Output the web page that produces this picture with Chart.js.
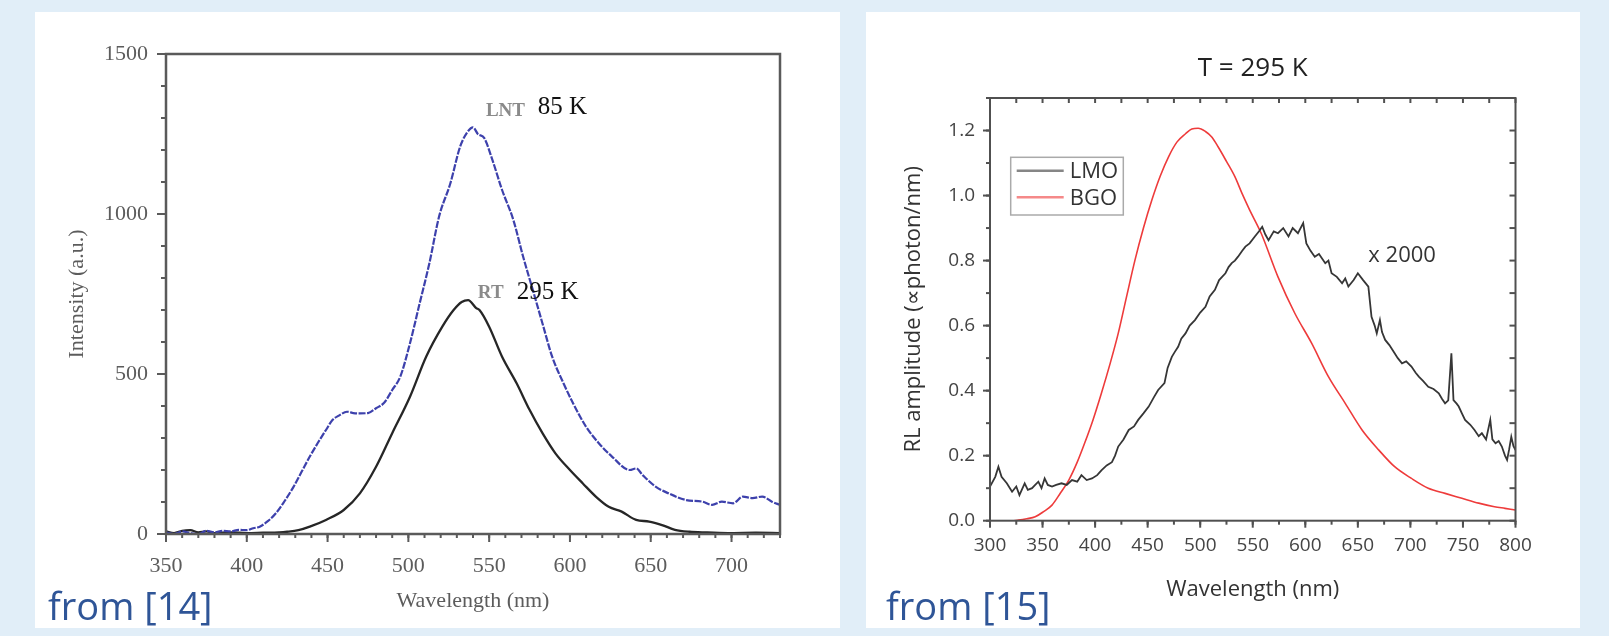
<!DOCTYPE html>
<html lang="en">
<head>
<meta charset="UTF-8">
<title>Luminescence spectra</title>
<script src="https://cdn.jsdelivr.net/npm/chart.js"></script>
<style>
    body {
        margin: 0;
        width: 1609px;
        height: 636px;
        overflow: hidden;
        position: relative;
        background-color: #e1eef8;
    }
    .panel {
        position: absolute;
        top: 12px;
        height: 616px;
        background: white;
    }
    .src {
        position: absolute;
        top: 586px;
        font-family: 'Open Sans', sans-serif;
        font-size: 38px;
        line-height: 38px;
        color: #2f5597;
        z-index: 2;
        white-space: nowrap;
    }
</style>
</head>
<body>
<div class="panel" style="left:35px;width:805px"><canvas id="left"></canvas></div>
<div class="panel" style="left:866px;width:714px"><canvas id="right"></canvas></div>
<div class="src" style="left:48px">from [14]</div>
<div class="src" style="left:886px">from [15]</div>

<script>
// left chart: photoluminescence
const lntNm = [350,355,360,365,370,375,380,385,390,395,400,404,408,413,418,423,429,434,439,444,449,453,457,462,466,470,475,480,485,490,495,501,507,513,519,526,532,536,540,543,547,552,558,565,571,577,583,589,596,602,610,618,626,637,641,645,653,661,672,682,688,694,701,707,713,719,725,730];
const lntIntensity = [5,0,8,3,0,10,5,10,8,13,12,18,23,40,65,100,148,195,242,285,325,356,370,382,378,377,378,393,410,450,492,596,721,846,992,1096,1210,1252,1271,1250,1237,1169,1075,981,867,763,658,554,471,408,335,283,242,200,205,184,148,127,106,101,91,101,96,117,112,117,101,91];

const rtNm = [350,355,360,365,370,375,380,390,400,410,420,425,432,439,449,460,470,480,490,501,511,521,528,533,537,542,544,550,558,567,575,583,591,600,608,616,624,632,641,649,657,665,674,685,700,715,730];
const rtIntensity = [8,3,10,12,5,8,3,5,3,4,5,7,12,23,44,75,127,210,315,429,554,648,700,725,731,706,700,648,554,471,388,315,252,200,158,117,85,70,44,39,28,13,7,5,3,4,3];

// right chart: radioluminescence at 295 K
const lmoNm = [300,305,308,311,316,321,325,328,333,336,340,343,346,349,352,355,359,363,368,373,378,383,387,392,397,402,406,411,416,419,422,427,432,437,441,446,451,456,460,466,469,473,476,479,482,486,490,495,500,505,509,514,518,524,527,530,533,536,540,543,547,552,556,559,562,565,570,574,579,584,588,593,598,601,605,609,613,619,622,625,630,635,638,641,646,650,655,660,663,666,668,671,673,676,680,685,688,692,696,701,705,708,712,717,722,727,730,733,736,739,741,744,746,749,752,757,761,765,768,772,776,778,781,784,787,790,792,794,796,798,800];
const lmoAmp = [0.105,0.135,0.166,0.135,0.115,0.089,0.105,0.079,0.115,0.095,0.100,0.110,0.120,0.100,0.130,0.110,0.105,0.110,0.115,0.110,0.125,0.120,0.140,0.125,0.130,0.140,0.155,0.170,0.180,0.200,0.228,0.250,0.279,0.290,0.310,0.330,0.351,0.380,0.402,0.423,0.470,0.504,0.520,0.535,0.560,0.576,0.600,0.617,0.640,0.658,0.690,0.710,0.740,0.761,0.780,0.792,0.800,0.812,0.830,0.843,0.853,0.874,0.890,0.904,0.880,0.863,0.890,0.884,0.900,0.874,0.900,0.884,0.915,0.853,0.830,0.812,0.820,0.792,0.800,0.761,0.750,0.730,0.745,0.720,0.740,0.761,0.740,0.720,0.627,0.600,0.576,0.617,0.580,0.556,0.540,0.515,0.500,0.484,0.490,0.474,0.455,0.443,0.430,0.412,0.405,0.392,0.375,0.361,0.370,0.515,0.371,0.360,0.351,0.330,0.310,0.295,0.279,0.260,0.269,0.250,0.310,0.250,0.238,0.245,0.228,0.200,0.187,0.220,0.258,0.230,0.217];

const bgoNm = [300,310,320,327,335,343,351,359,367,375,383,390,398,406,414,422,430,438,446,454,462,470,478,486,492,498,505,511,517,525,533,540,547,558,574,590,606,622,638,654,670,685,701,717,733,749,765,780,790,800];
const bgoAmp = [0,0,0,0.002,0.006,0.012,0.028,0.048,0.085,0.125,0.18,0.238,0.31,0.392,0.48,0.576,0.69,0.802,0.9,0.986,1.06,1.12,1.165,1.19,1.205,1.207,1.197,1.18,1.15,1.105,1.058,1.005,0.956,0.884,0.75,0.638,0.546,0.443,0.361,0.279,0.217,0.166,0.13,0.1,0.084,0.069,0.054,0.043,0.038,0.033];

function toPoints(xs, ys) {
    return xs.map((x, i) => ({x: x, y: ys[i]}));
}

// box around the plot plus the tick marks (Chart.js has no minor ticks)
const framePlugin = {
    id: 'frame',
    afterDatasetsDraw(chart, args, o) {
        const ctx = chart.ctx;
        const a = chart.chartArea;
        ctx.save();
        ctx.strokeStyle = o.color;
        ctx.lineWidth = o.width;
        ctx.strokeRect(a.left, a.top, a.right - a.left, a.bottom - a.top);
        ctx.lineWidth = o.tickWidth;
        o.marks.forEach(m => {
            const sc = chart.scales[m.axis];
            const dir = m.out ? 1 : -1;
            let v = Math.ceil(sc.min / m.step - 1e-6) * m.step;
            for (; v <= sc.max + 1e-6; v += m.step) {
                const p = sc.getPixelForValue(v);
                ctx.beginPath();
                if (m.side === 'bottom') { ctx.moveTo(p, a.bottom); ctx.lineTo(p, a.bottom + dir * m.len); }
                if (m.side === 'top') { ctx.moveTo(p, a.top); ctx.lineTo(p, a.top - dir * m.len); }
                if (m.side === 'left') { ctx.moveTo(a.left, p); ctx.lineTo(a.left - dir * m.len, p); }
                if (m.side === 'right') { ctx.moveTo(a.right, p); ctx.lineTo(a.right + dir * m.len, p); }
                ctx.stroke();
            }
        });
        ctx.restore();
    }
};

// text notes placed in data coordinates
const notesPlugin = {
    id: 'notes',
    afterDatasetsDraw(chart, args, o) {
        const ctx = chart.ctx;
        const {x, y} = chart.scales;
        (o.items || []).forEach(n => {
            ctx.save();
            ctx.font = n.font;
            ctx.fillStyle = n.color;
            ctx.textAlign = 'left';
            ctx.textBaseline = 'middle';
            ctx.fillText(n.text, x.getPixelForValue(n.x), y.getPixelForValue(n.y));
            ctx.restore();
        });
    }
};

// boxed legend inside the plot, from the dataset labels and colours
const boxLegendPlugin = {
    id: 'boxLegend',
    afterDatasetsDraw(chart, args, o) {
        if (!o.show) return;
        const ctx = chart.ctx;
        const a = chart.chartArea;
        const bx = a.left + o.dx, by = a.top + o.dy;
        ctx.save();
        ctx.fillStyle = 'white';
        ctx.fillRect(bx, by, o.w, o.h);
        ctx.strokeStyle = '#aaa';
        ctx.lineWidth = 1.5;
        ctx.strokeRect(bx, by, o.w, o.h);
        ctx.font = o.font;
        ctx.textBaseline = 'middle';
        chart.data.datasets.forEach((ds, i) => {
            const ry = by + o.firstRow + i * o.rowGap;
            ctx.globalAlpha = 0.6;
            ctx.strokeStyle = ds.borderColor;
            ctx.lineWidth = 2.5;
            ctx.beginPath();
            ctx.moveTo(bx + 6, ry);
            ctx.lineTo(bx + 53, ry);
            ctx.stroke();
            ctx.globalAlpha = 1;
            ctx.fillStyle = '#333';
            ctx.fillText(ds.label, bx + 59, ry + 1);
        });
        ctx.restore();
    }
};

const serif = "'Liberation Serif', 'Times New Roman', serif";
const sans = "'Open Sans', sans-serif";

new Chart(document.getElementById('left'), {
    type: 'line',
    data: {
        datasets: [{
            label: 'LNT 85 K',
            data: toPoints(lntNm, lntIntensity),
            borderColor: '#3d41ac',
            borderWidth: 2.2,
            borderDash: [7, 1.5],
            pointRadius: 0,
            cubicInterpolationMode: 'monotone'
        }, {
            label: 'RT 295 K',
            data: toPoints(rtNm, rtIntensity),
            borderColor: '#262626',
            borderWidth: 2.3,
            pointRadius: 0,
            cubicInterpolationMode: 'monotone'
        }]
    },
    options: {
        responsive: true,
        maintainAspectRatio: false,
        animation: false,
        devicePixelRatio: 1,
        layout: { padding: { top: 42, right: 60, left: 0, bottom: 0 } },
        plugins: {
            legend: { display: false },
            tooltip: { enabled: false },
            frame: {
                color: '#5a5a5a', width: 2.5, tickWidth: 2,
                marks: [
                    { axis: 'x', side: 'bottom', step: 50, len: 8, out: true },
                    { axis: 'x', side: 'bottom', step: 10, len: 4, out: true },
                    { axis: 'y', side: 'left', step: 500, len: 9, out: true },
                    { axis: 'y', side: 'left', step: 100, len: 5, out: true }
                ]
            },
            notes: {
                items: [
                    { text: 'LNT', x: 548, y: 1322, font: "bold 19px " + serif, color: '#8a8a8a' },
                    { text: '85 K', x: 580, y: 1333, font: "25px " + serif, color: '#111' },
                    { text: 'RT', x: 543, y: 753, font: "bold 19px " + serif, color: '#8a8a8a' },
                    { text: '295 K', x: 567, y: 756, font: "25px " + serif, color: '#111' }
                ]
            }
        },
        scales: {
            x: {
                type: 'linear',
                min: 350,
                max: 730,
                afterFit: s => { s.height = 94; },
                grid: { display: false, drawTicks: false },
                border: { display: false },
                ticks: {
                    stepSize: 50,
                    includeBounds: false,
                    padding: 19,
                    color: '#5c5c5c',
                    font: { family: serif, size: 22 }
                },
                title: {
                    display: true,
                    text: 'Wavelength (nm)',
                    color: '#5c5c5c',
                    font: { family: serif, size: 22 },
                    padding: { top: 0, bottom: 14 }
                }
            },
            y: {
                min: 0,
                max: 1500,
                afterFit: s => { s.width = 131; },
                grid: { display: false, drawTicks: false },
                border: { display: false },
                ticks: {
                    stepSize: 500,
                    padding: 18,
                    color: '#5c5c5c',
                    font: { family: serif, size: 22 },
                    callback: v => String(v)
                },
                title: {
                    display: true,
                    text: 'Intensity (a.u.)',
                    color: '#5c5c5c',
                    font: { family: serif, size: 22 },
                    padding: { top: 29, bottom: 0 }
                }
            }
        }
    },
    plugins: [framePlugin, notesPlugin]
});

new Chart(document.getElementById('right'), {
    type: 'line',
    data: {
        datasets: [{
            label: 'LMO',
            data: toPoints(lmoNm, lmoAmp),
            borderColor: '#363636',
            borderWidth: 1.8,
            pointRadius: 0,
            tension: 0
        }, {
            label: 'BGO',
            data: toPoints(bgoNm, bgoAmp),
            borderColor: '#ee3b3b',
            borderWidth: 1.6,
            pointRadius: 0,
            cubicInterpolationMode: 'monotone'
        }]
    },
    options: {
        responsive: true,
        maintainAspectRatio: false,
        animation: false,
        devicePixelRatio: 1,
        layout: { padding: { top: 0, right: 64.5, left: 0, bottom: 0 } },
        plugins: {
            legend: { display: false },
            tooltip: { enabled: false },
            title: {
                display: true,
                fullSize: false,
                text: 'T = 295 K',
                color: '#222',
                font: { family: sans, size: 26, weight: 'normal' },
                padding: { top: 41.4, bottom: 13.4 }
            },
            frame: {
                color: '#505050', width: 2, tickWidth: 2,
                marks: [
                    { axis: 'x', side: 'bottom', step: 50, len: 7, out: true },
                    { axis: 'x', side: 'bottom', step: 25, len: 4, out: true },
                    { axis: 'x', side: 'top', step: 25, len: 5, out: false },
                    { axis: 'y', side: 'left', step: 0.2, len: 7, out: true },
                    { axis: 'y', side: 'left', step: 0.1, len: 4, out: true },
                    { axis: 'y', side: 'right', step: 0.1, len: 6, out: false }
                ]
            },
            notes: {
                items: [
                    { text: 'x 2000', x: 660, y: 0.814, font: "22px " + sans, color: '#333' }
                ]
            },
            boxLegend: {
                show: true, dx: 20.7, dy: 59.3, w: 112.6, h: 57.7,
                firstRow: 13.4, rowGap: 26.6, font: "22px " + sans
            }
        },
        scales: {
            x: {
                type: 'linear',
                min: 300,
                max: 800,
                afterFit: s => { s.height = 107.3; },
                grid: { display: false, drawTicks: false },
                border: { display: false },
                ticks: {
                    stepSize: 50,
                    padding: 13.4,
                    color: '#444',
                    font: { family: sans, size: 19 }
                },
                title: {
                    display: true,
                    text: 'Wavelength (nm)',
                    color: '#333',
                    font: { family: sans, size: 22 },
                    padding: { top: 0, bottom: 25.5 }
                }
            },
            y: {
                min: 0,
                max: 1.3,
                afterFit: s => { s.width = 124; },
                grid: { display: false, drawTicks: false },
                border: { display: false },
                ticks: {
                    stepSize: 0.2,
                    includeBounds: false,
                    padding: 15,
                    color: '#444',
                    font: { family: sans, size: 19 },
                    callback: v => v.toFixed(1)
                },
                title: {
                    display: true,
                    text: 'RL amplitude (\u221Dphoton/nm)',
                    color: '#333',
                    font: { family: sans, size: 22 },
                    padding: { top: 34.8, bottom: 0 }
                }
            }
        }
    },
    plugins: [framePlugin, notesPlugin, boxLegendPlugin]
});
</script>
</body>
</html>
